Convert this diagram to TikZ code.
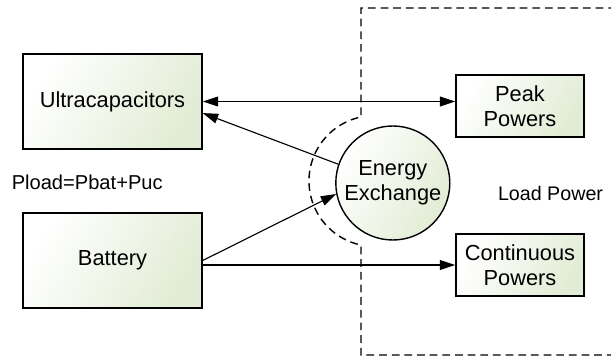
\documentclass[tikz,border=0pt]{standalone}
\usepackage{fontspec}
\setmainfont{Liberation Sans}
\usetikzlibrary{arrows.meta}
\definecolor{boxgreen}{RGB}{226,236,212}

\begin{document}
\begin{tikzpicture}[
   font=\fontsize{15.5}{18}\selectfont,
   >={Triangle[length=11pt,width=7pt]},
   unit/.style={draw=black, line width=1pt, left color=white, right color=boxgreen, shading angle=60, minimum width=4.475cm, minimum height=2.375cm, inner sep=0pt},
   load/.style={draw=black, line width=1pt, left color=white, right color=boxgreen, shading angle=60, minimum width=3.2cm, minimum height=1.55cm, inner sep=0pt, align=center},
   flow/.style={line width=0.8pt, ->},
   label/.style={font=\fontsize{14.3}{17}\selectfont},
   bound/.style={line width=1pt, dash pattern=on 5.5pt off 3.5pt}
]
   %\draw[step=1cm,gray,very thin] (0,0) grid (15,9);
   \useasboundingbox (0,0) rectangle (15.275,8.95);

   % load side boundary
   \draw[bound] (15.4,8.75) -- (9.025,8.75) -- (9.025,6.025)
      arc[start angle=101.8, end angle=258.2, radius=1.635] -- (9.025,0.075) -- (15.4,0.075);

   \node[unit] (ucap) at (2.8125,6.4125) {Ultracapacitors};
   \node[unit] (bat) at (2.8125,2.4375) {Battery};
   \node[load] (peak) at (13,6.3) {Peak\\Powers};
   \node[load] (cont) at (13,2.325) {Continuous\\Powers};
   \node[circle, draw=black, line width=1pt, left color=white, right color=boxgreen, shading angle=60, minimum size=2.85cm, inner sep=0pt, align=center] (ee) at (9.82,4.375) {Energy\\Exchange};

   \node[label, anchor=west] (eq) at (0.17,4.4) {Pload=Pbat+Puc};
   \node[label, anchor=east, font=\fontsize{14}{17}\selectfont] (lp) at (15.2,4.125) {Load Power};

   \draw[flow, <->] (ucap.east) -- (ucap.east -| peak.west);
   \draw[flow] (ee.161) -- ([yshift=-0.29cm]ucap.east);
   \draw[flow] (bat.east) -- (ee.191);
   \draw[flow] (cont.west -| bat.east) -- (cont.west);

\end{tikzpicture}
\end{document}
